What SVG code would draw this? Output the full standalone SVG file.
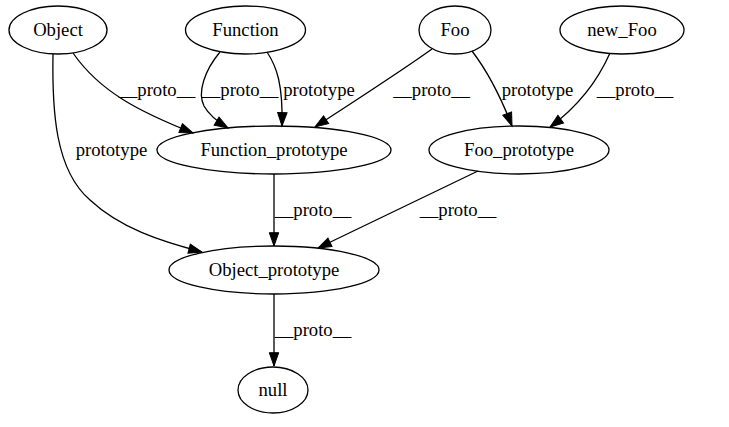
<svg xmlns="http://www.w3.org/2000/svg" width="729" height="427" viewBox="0 0 729 427">
<style>
.node ellipse{fill:none;stroke:#000;stroke-width:1.3}
text{font-family:"Liberation Serif","Times New Roman",serif;font-size:18.67px;fill:#000;text-anchor:middle}
.edge path{fill:none;stroke:#000;stroke-width:1.3;marker-end:url(#arr)}
</style>
<defs>
<marker id="arr" markerUnits="userSpaceOnUse" markerWidth="16" markerHeight="12" viewBox="0 -6 14 12" refX="13.3" refY="0" orient="auto">
<path d="M0,-4.7 L13.3,0 L0,4.7 z" fill="#000" stroke="#000" stroke-width="1"/>
</marker>
</defs>
<rect width="729" height="427" fill="#fff"/>
<g id="edges">
<g class="edge"><path d="M73,53 C100,92 140,112 193,133"/><text x="157" y="96">__proto__</text></g>
<g class="edge"><path d="M53,54 C52,110 55,170 90,200 C120,228 160,241 202,252"/><text x="111.5" y="156">prototype</text></g>
<g class="edge"><path d="M220,52 C205,70 197,92 204,106 C209,115 218,122 228,128"/><text x="240" y="96">__proto__</text></g>
<g class="edge"><path d="M267,52 C277,67 283,85 282,126"/><text x="319" y="96">prototype</text></g>
<g class="edge"><path d="M432,49 C400,72 350,104 315,127"/><text x="431.5" y="96">__proto__</text></g>
<g class="edge"><path d="M472,51 C485,68 500,95 512,126"/><text x="537.5" y="96">prototype</text></g>
<g class="edge"><path d="M610,53 C598,80 580,105 550,127"/><text x="635" y="96">__proto__</text></g>
<g class="edge"><path d="M274,174 L274,246"/><text x="313" y="216">__proto__</text></g>
<g class="edge"><path d="M478,171 L318,248"/><text x="458" y="216">__proto__</text></g>
<g class="edge"><path d="M274,294 L274,366"/><text x="313" y="336">__proto__</text></g>
</g>
<g id="Object" class="node"><ellipse cx="58" cy="30" rx="49" ry="24"/><text x="58" y="36">Object</text></g>
<g id="Function" class="node"><ellipse cx="245.5" cy="30" rx="60" ry="24"/><text x="245.5" y="36">Function</text></g>
<g id="Foo" class="node"><ellipse cx="455" cy="30" rx="36" ry="24"/><text x="455" y="36">Foo</text></g>
<g id="new_Foo" class="node"><ellipse cx="622" cy="30" rx="62" ry="24"/><text x="622" y="36">new_Foo</text></g>
<g id="Function_prototype" class="node"><ellipse cx="274" cy="150" rx="117" ry="24"/><text x="274" y="156">Function_prototype</text></g>
<g id="Foo_prototype" class="node"><ellipse cx="519" cy="150" rx="90" ry="24"/><text x="519" y="156">Foo_prototype</text></g>
<g id="Object_prototype" class="node"><ellipse cx="274" cy="270" rx="105" ry="24"/><text x="274" y="276">Object_prototype</text></g>
<g id="null" class="node"><ellipse cx="273" cy="390" rx="35" ry="23"/><text x="273" y="396">null</text></g>
</svg>
